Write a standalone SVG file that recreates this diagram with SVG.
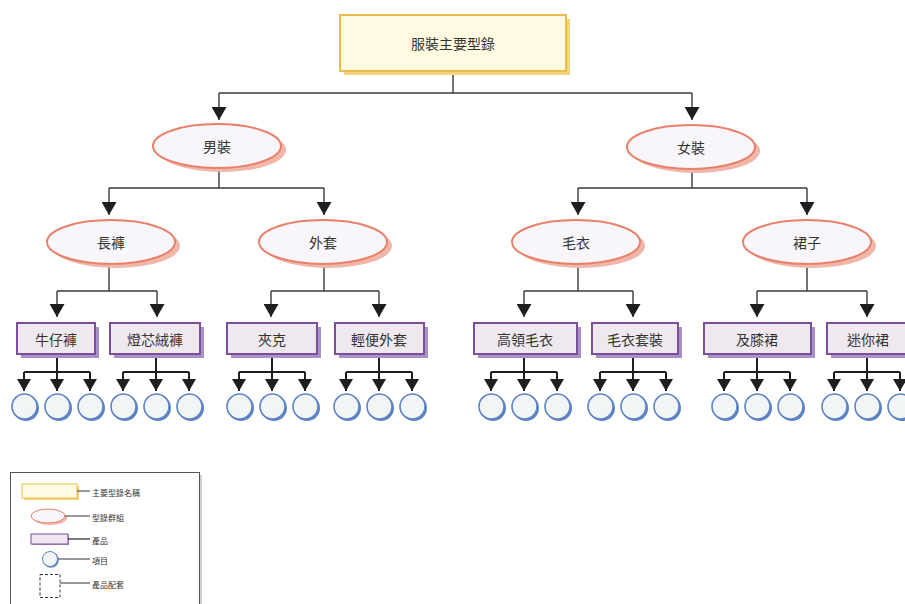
<svg xmlns="http://www.w3.org/2000/svg" width="905" height="604" viewBox="0 0 905 604">
<style>
text{font-family:"Noto Sans CJK TC","Noto Sans CJK SC",sans-serif;fill:#333;text-anchor:middle;dominant-baseline:central}
.lbl{font-size:14px}
.lg{font-size:8px;text-anchor:start}
.conn{fill:none;stroke:#3a3a3a;stroke-width:1.4}
.conn2{fill:none;stroke:#1e1e1e;stroke-width:2}
.ell{fill:#f8f6fa;stroke:#e8806a;stroke-width:2}
.ellsh{fill:#f0b6aa}
.prod{fill:#efe9ef;stroke:#7b4f9c;stroke-width:2}
.prodsh{fill:#a890c8}
.item{fill:#f2f5f5;stroke:#5f84c4;stroke-width:1.6}
.itemsh{fill:#5f84c4}
.lgline{stroke:#555;stroke-width:1.2}
</style>
<defs>
<marker id="ah" viewBox="0 0 13 15" refX="13" refY="7.5" markerWidth="13" markerHeight="15" markerUnits="userSpaceOnUse" orient="auto"><path d="M0,0 L13,7.5 L0,15 z" fill="#1e1e1e"/></marker>
<marker id="ahs" viewBox="0 0 12 14" refX="12" refY="7" markerWidth="12" markerHeight="14" markerUnits="userSpaceOnUse" orient="auto"><path d="M0,0 L12,7 L0,14 z" fill="#1e1e1e"/></marker>
</defs>
<g id="connectors">
<path class="conn" d="M453,71 V93 M219,93 H692"/>
<path class="conn" d="M219,93 V120" marker-end="url(#ah)"/>
<path class="conn" d="M692,93 V120" marker-end="url(#ah)"/>
<path class="conn" d="M219,168 V188 M109,188 H324"/>
<path class="conn" d="M109,188 V215" marker-end="url(#ah)"/>
<path class="conn" d="M324,188 V215" marker-end="url(#ah)"/>
<path class="conn" d="M692,168 V188 M578,188 H807"/>
<path class="conn" d="M578,188 V215" marker-end="url(#ah)"/>
<path class="conn" d="M807,188 V215" marker-end="url(#ah)"/>
<path class="conn" d="M109,263 V291 M57,291 H157"/>
<path class="conn" d="M57,291 V317" marker-end="url(#ah)"/>
<path class="conn" d="M157,291 V317" marker-end="url(#ah)"/>
<path class="conn" d="M324,264 V291 M271,291 H379"/>
<path class="conn" d="M271,291 V317" marker-end="url(#ah)"/>
<path class="conn" d="M379,291 V317" marker-end="url(#ah)"/>
<path class="conn" d="M578,264 V291 M524,291 H633"/>
<path class="conn" d="M524,291 V317" marker-end="url(#ah)"/>
<path class="conn" d="M633,291 V317" marker-end="url(#ah)"/>
<path class="conn" d="M807,265 V291 M757,291 H867"/>
<path class="conn" d="M757,291 V317" marker-end="url(#ah)"/>
<path class="conn" d="M867,291 V317" marker-end="url(#ah)"/>
<g class="items-conn">
<path class="conn2" d="M57,355 V372 M24,372 H90"/>
<path class="conn2" d="M24,372 V391" marker-end="url(#ahs)"/><path class="conn2" d="M57,372 V391" marker-end="url(#ahs)"/><path class="conn2" d="M90,372 V391" marker-end="url(#ahs)"/>
<path class="conn2" d="M156,355 V372 M123,372 H189"/>
<path class="conn2" d="M123,372 V391" marker-end="url(#ahs)"/><path class="conn2" d="M156,372 V391" marker-end="url(#ahs)"/><path class="conn2" d="M189,372 V391" marker-end="url(#ahs)"/>
<path class="conn2" d="M272,355 V372 M239,372 H305"/>
<path class="conn2" d="M239,372 V391" marker-end="url(#ahs)"/><path class="conn2" d="M272,372 V391" marker-end="url(#ahs)"/><path class="conn2" d="M305,372 V391" marker-end="url(#ahs)"/>
<path class="conn2" d="M379,355 V372 M346,372 H412"/>
<path class="conn2" d="M346,372 V391" marker-end="url(#ahs)"/><path class="conn2" d="M379,372 V391" marker-end="url(#ahs)"/><path class="conn2" d="M412,372 V391" marker-end="url(#ahs)"/>
<path class="conn2" d="M524,355 V372 M491,372 H557"/>
<path class="conn2" d="M491,372 V391" marker-end="url(#ahs)"/><path class="conn2" d="M524,372 V391" marker-end="url(#ahs)"/><path class="conn2" d="M557,372 V391" marker-end="url(#ahs)"/>
<path class="conn2" d="M633,355 V372 M600,372 H666"/>
<path class="conn2" d="M600,372 V391" marker-end="url(#ahs)"/><path class="conn2" d="M633,372 V391" marker-end="url(#ahs)"/><path class="conn2" d="M666,372 V391" marker-end="url(#ahs)"/>
<path class="conn2" d="M757,355 V372 M724,372 H790"/>
<path class="conn2" d="M724,372 V391" marker-end="url(#ahs)"/><path class="conn2" d="M757,372 V391" marker-end="url(#ahs)"/><path class="conn2" d="M790,372 V391" marker-end="url(#ahs)"/>
<path class="conn2" d="M867,355 V372 M834,372 H900"/>
<path class="conn2" d="M834,372 V391" marker-end="url(#ahs)"/><path class="conn2" d="M867,372 V391" marker-end="url(#ahs)"/><path class="conn2" d="M900,372 V391" marker-end="url(#ahs)"/>
</g>
</g>
<g id="root">
<rect x="344" y="19" width="226" height="56" fill="#f3d47c"/>
<rect x="340" y="15" width="226" height="56" fill="#fffbe3" stroke="#ebbd4f" stroke-width="2"/>
<text class="lbl" x="453" y="43">服裝主要型錄</text>
</g>
<g id="men"><ellipse class="ellsh" cx="222" cy="150" rx="64" ry="22"/><ellipse class="ell" cx="217" cy="146" rx="64" ry="22"/><text class="lbl" x="217" y="146">男裝</text></g>
<g id="women"><ellipse class="ellsh" cx="696" cy="151" rx="64" ry="22"/><ellipse class="ell" cx="691" cy="147" rx="64" ry="22"/><text class="lbl" x="691" y="147">女裝</text></g>
<g id="pants"><ellipse class="ellsh" cx="116" cy="246" rx="64" ry="22"/><ellipse class="ell" cx="111" cy="242" rx="64" ry="22"/><text class="lbl" x="111" y="242">長褲</text></g>
<g id="coat"><ellipse class="ellsh" cx="328" cy="246" rx="64" ry="22"/><ellipse class="ell" cx="323" cy="242" rx="64" ry="22"/><text class="lbl" x="323" y="242">外套</text></g>
<g id="sweater"><ellipse class="ellsh" cx="581" cy="246" rx="64" ry="22"/><ellipse class="ell" cx="576" cy="242" rx="64" ry="22"/><text class="lbl" x="576" y="242">毛衣</text></g>
<g id="skirt"><ellipse class="ellsh" cx="812" cy="246" rx="64" ry="22"/><ellipse class="ell" cx="807" cy="242" rx="64" ry="22"/><text class="lbl" x="807" y="242">裙子</text></g>
<g id="jeans"><rect class="prodsh" x="21" y="327" width="78" height="31"/><rect class="prod" x="17" y="323" width="78" height="31"/><text class="lbl" x="56" y="339">牛仔褲</text></g>
<g id="corduroy"><rect class="prodsh" x="114" y="327" width="90" height="31"/><rect class="prod" x="110" y="323" width="90" height="31"/><text class="lbl" x="155" y="339">燈芯絨褲</text></g>
<g id="jacket"><rect class="prodsh" x="231" y="327" width="90" height="31"/><rect class="prod" x="227" y="323" width="90" height="31"/><text class="lbl" x="272" y="339">夾克</text></g>
<g id="casualcoat"><rect class="prodsh" x="339" y="327" width="89" height="31"/><rect class="prod" x="335" y="323" width="89" height="31"/><text class="lbl" x="379" y="339">輕便外套</text></g>
<g id="turtleneck"><rect class="prodsh" x="478" y="327" width="103" height="31"/><rect class="prod" x="474" y="323" width="103" height="31"/><text class="lbl" x="525" y="339">高領毛衣</text></g>
<g id="twinset"><rect class="prodsh" x="596" y="327" width="86" height="31"/><rect class="prod" x="592" y="323" width="86" height="31"/><text class="lbl" x="635" y="339">毛衣套裝</text></g>
<g id="kneeskirt"><rect class="prodsh" x="708" y="327" width="107" height="31"/><rect class="prod" x="704" y="323" width="107" height="31"/><text class="lbl" x="757" y="339">及膝裙</text></g>
<g id="miniskirt"><rect class="prodsh" x="831" y="327" width="90" height="31"/><rect class="prod" x="827" y="323" width="90" height="31"/><text class="lbl" x="868" y="339">迷你裙</text></g>
<g id="items">
<g id="item-jeans"><circle class="itemsh" cx="26" cy="408" r="13"/><circle class="item" cx="24.5" cy="406.5" r="12.5"/><circle class="itemsh" cx="59" cy="408" r="13"/><circle class="item" cx="57.5" cy="406.5" r="12.5"/><circle class="itemsh" cx="92" cy="408" r="13"/><circle class="item" cx="90.5" cy="406.5" r="12.5"/></g>
<g id="item-corduroy"><circle class="itemsh" cx="125" cy="408" r="13"/><circle class="item" cx="123.5" cy="406.5" r="12.5"/><circle class="itemsh" cx="158" cy="408" r="13"/><circle class="item" cx="156.5" cy="406.5" r="12.5"/><circle class="itemsh" cx="191" cy="408" r="13"/><circle class="item" cx="189.5" cy="406.5" r="12.5"/></g>
<g id="item-jacket"><circle class="itemsh" cx="241" cy="408" r="13"/><circle class="item" cx="239.5" cy="406.5" r="12.5"/><circle class="itemsh" cx="274" cy="408" r="13"/><circle class="item" cx="272.5" cy="406.5" r="12.5"/><circle class="itemsh" cx="307" cy="408" r="13"/><circle class="item" cx="305.5" cy="406.5" r="12.5"/></g>
<g id="item-casualcoat"><circle class="itemsh" cx="348" cy="408" r="13"/><circle class="item" cx="346.5" cy="406.5" r="12.5"/><circle class="itemsh" cx="381" cy="408" r="13"/><circle class="item" cx="379.5" cy="406.5" r="12.5"/><circle class="itemsh" cx="414" cy="408" r="13"/><circle class="item" cx="412.5" cy="406.5" r="12.5"/></g>
<g id="item-turtleneck"><circle class="itemsh" cx="493" cy="408" r="13"/><circle class="item" cx="491.5" cy="406.5" r="12.5"/><circle class="itemsh" cx="526" cy="408" r="13"/><circle class="item" cx="524.5" cy="406.5" r="12.5"/><circle class="itemsh" cx="559" cy="408" r="13"/><circle class="item" cx="557.5" cy="406.5" r="12.5"/></g>
<g id="item-twinset"><circle class="itemsh" cx="602" cy="408" r="13"/><circle class="item" cx="600.5" cy="406.5" r="12.5"/><circle class="itemsh" cx="635" cy="408" r="13"/><circle class="item" cx="633.5" cy="406.5" r="12.5"/><circle class="itemsh" cx="668" cy="408" r="13"/><circle class="item" cx="666.5" cy="406.5" r="12.5"/></g>
<g id="item-kneeskirt"><circle class="itemsh" cx="726" cy="408" r="13"/><circle class="item" cx="724.5" cy="406.5" r="12.5"/><circle class="itemsh" cx="759" cy="408" r="13"/><circle class="item" cx="757.5" cy="406.5" r="12.5"/><circle class="itemsh" cx="792" cy="408" r="13"/><circle class="item" cx="790.5" cy="406.5" r="12.5"/></g>
<g id="item-miniskirt"><circle class="itemsh" cx="836" cy="408" r="13"/><circle class="item" cx="834.5" cy="406.5" r="12.5"/><circle class="itemsh" cx="869" cy="408" r="13"/><circle class="item" cx="867.5" cy="406.5" r="12.5"/><circle class="itemsh" cx="902" cy="408" r="13"/><circle class="item" cx="900.5" cy="406.5" r="12.5"/></g>
</g>
<g id="legend">
<rect x="13" y="475" width="189" height="135" fill="#cfcfcf"/>
<rect x="10.5" y="472.5" width="189" height="135" fill="#fff" stroke="#555" stroke-width="1"/>
<rect x="24" y="486" width="55" height="14" fill="#f3d47c"/>
<rect x="22" y="484" width="55" height="14" fill="#fffbe3" stroke="#ebbd4f" stroke-width="1"/>
<line class="lgline" x1="77" y1="491" x2="90" y2="491"/>
<text class="lg" x="92" y="492">主要型錄名稱</text>
<ellipse cx="50" cy="518" rx="17" ry="7" fill="#f0b6aa"/>
<ellipse cx="48" cy="516" rx="17" ry="7" fill="#f8f6fa" stroke="#e8806a" stroke-width="1"/>
<line class="lgline" x1="65" y1="516" x2="90" y2="516"/>
<text class="lg" x="92" y="517">型錄群組</text>
<rect x="32" y="535" width="37" height="10" fill="#a890c8"/>
<rect x="31" y="534" width="37" height="10" fill="#efe9ef" stroke="#7b4f9c" stroke-width="1"/>
<line x1="68" y1="539" x2="90" y2="539" stroke="#222" stroke-width="1.2"/>
<text class="lg" x="92" y="540">產品</text>
<circle cx="50.8" cy="559.8" r="8" fill="#5f84c4"/>
<circle cx="50" cy="559" r="7.5" fill="#f2f5f5" stroke="#5f84c4" stroke-width="1"/>
<line class="lgline" x1="58" y1="559" x2="90" y2="559"/>
<text class="lg" x="92" y="560">項目</text>
<rect x="40" y="574.5" width="20" height="23" fill="#fff" stroke="#333" stroke-width="1" stroke-dasharray="3,2"/>
<line class="lgline" x1="60" y1="583" x2="90" y2="583"/>
<text class="lg" x="92" y="584">產品配套</text>
</g>
</svg>
